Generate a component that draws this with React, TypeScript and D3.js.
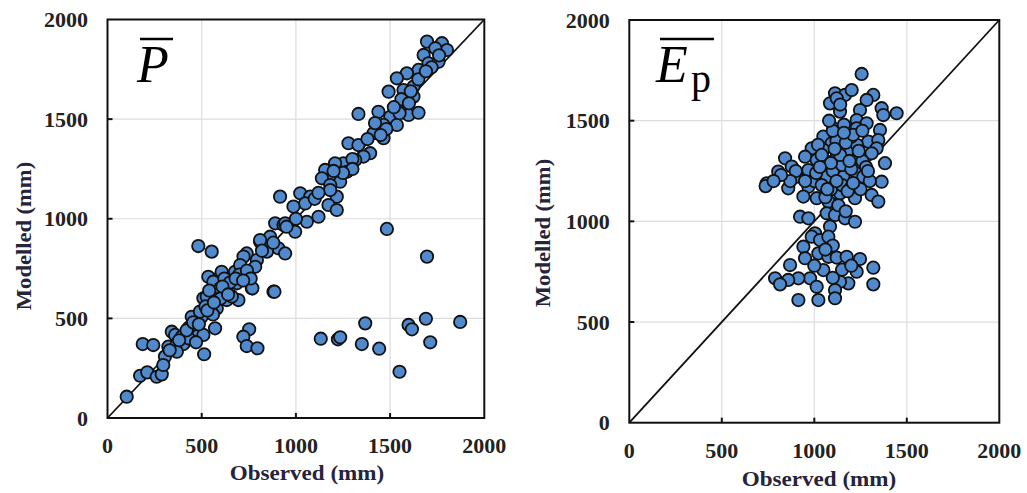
import React from "react";
import * as d3 from "d3";

const ticks = [0, 500, 1000, 1500, 2000];
const innerTicks = [500, 1000, 1500];

// Panel P: observed vs modelled precipitation (mm)
const pObserved = [
  102, 173, 211, 261, 288, 187, 243, 323, 305, 296, 341, 359, 394, 368, 403, 438, 474, 513, 509, 571,
  429, 447, 500, 491, 545, 509, 580, 633, 589, 580, 624, 686, 695, 535, 598, 606, 677, 766, 881, 482,
  553, 739, 810, 863, 907, 943, 846, 793, 784, 722, 704, 890, 934, 996, 562, 598, 527, 368,
  1696, 1775, 1802, 1740, 1678, 1704, 1757, 1651, 1589, 1536, 1624, 1571, 1492, 1624, 1536, 1438, 1501, 1598, 1651, 1332,
  1465, 1536, 1412, 1465, 1279, 1332, 1394, 1359, 1315, 1253, 1208, 1155, 1271, 1182, 1235, 1138, 1182, 1217, 1182, 916,
  1023, 1076, 1049, 987, 1173, 1217, 1120, 1058, 943, 810, 1483,
  1696, 886, 769, 752, 721, 739, 796, 1132, 1223, 1235, 1368, 1350, 1442, 1550, 1598, 1616, 1690, 1713, 1872,
  620, 650, 700, 660, 560, 520, 460, 430, 470, 540, 600, 740, 760, 820, 1000, 1100, 1300, 1420, 1480, 1560,
  1600, 1650, 1720, 1550, 1300, 1250, 1200, 1120, 950, 880,
  330, 380, 420, 455, 485, 530, 565, 610, 640, 680, 720, 1380, 1450, 1520, 1610, 1690, 1760,
];
const pModelled = [
  107, 212, 229, 207, 219, 371, 366, 358, 308, 266, 433, 417, 408, 371, 371, 458, 442, 320, 417, 450,
  450, 508, 508, 534, 567, 601, 592, 592, 634, 550, 642, 676, 592, 709, 709, 734, 734, 651, 634, 863,
  835, 826, 885, 910, 852, 826, 835, 793, 759, 810, 768, 977, 969, 935, 684, 651, 609, 333,
  1889, 1881, 1847, 1856, 1822, 1780, 1788, 1747, 1730, 1705, 1663, 1646, 1638, 1613, 1562, 1537, 1512, 1521, 1532, 1526,
  1471, 1471, 1429, 1404, 1379, 1370, 1329, 1312, 1295, 1278, 1278, 1245, 1236, 1195, 1186, 1203, 1169, 1111, 1144, 1111,
  1128, 1111, 1077, 1061, 1069, 1044, 1010, 985, 977, 893, 949,
  810, 634, 651, 445, 408, 361, 350, 398, 395, 405, 475, 371, 348, 232, 467, 445, 498, 380, 482,
  700, 680, 720, 610, 520, 560, 470, 400, 380, 640, 600, 740, 700, 840, 1000, 1100, 1300, 1480, 1450, 1600,
  1580, 1700, 1760, 1530, 1250, 1230, 1240, 1130, 960, 880,
  340, 390, 440, 480, 470, 540, 580, 660, 620, 700, 690, 1400, 1420, 1560, 1640, 1740, 1820,
];

// Panel Ep: observed vs modelled potential evaporation (mm)
const epObserved = [
  1256, 1112, 1166, 1202, 1085, 1139, 1121, 1319, 1283, 1364, 1445, 1373, 1247, 1229, 1283, 1355, 1229, 1103, 1049, 1094,
  1175, 1292, 1346, 1337, 986, 950, 1049, 1121, 1193, 1247, 1310, 1382, 842, 878, 805, 743, 737, 859, 905, 968,
  1031, 1067, 1157, 1229, 1265, 1364, 1310, 1346, 1220, 1139, 1076, 968, 941, 1013, 923, 968, 1067, 1112, 1166, 1220,
  1085, 1004, 1013, 986, 1031, 1076, 941, 1022, 950, 1076, 1121, 1175, 1247, 1319, 1319, 1229, 1184, 1139, 1112, 1049,
  977, 1013, 914, 859, 869, 788, 815, 914, 1022, 1112,
  1000, 1040, 1100, 1150, 1200, 1180, 1120, 1230, 1260, 1280, 1300, 1060, 1010, 1090, 1150, 1200, 1250, 1060, 1130, 1170,
  1100, 1160, 1200, 1080, 1140, 1020, 900, 950, 870, 820, 780, 1100, 1060, 1000, 1150, 1100, 1200,
  1040, 1090, 1140, 1190, 1240, 1290, 1070, 1120, 1170, 1210, 1260, 1030, 1180, 1110, 1160, 1210,
];
const epModelled = [
  1732, 1636, 1628, 1652, 1586, 1545, 1611, 1628, 1603, 1562, 1537, 1528, 1553, 1503, 1487, 1454, 1462, 1462, 1421, 1388,
  1413, 1396, 1404, 1363, 1363, 1321, 1355, 1321, 1330, 1321, 1338, 1289, 1313, 1272, 1247, 1189, 1175, 1164, 1222, 1255,
  1272, 1222, 1222, 1239, 1222, 1197, 1131, 1098, 1115, 1139, 1098, 1172, 1123, 1115, 1023, 1015, 1040, 1032, 1015, 998,
  974, 941, 1305, 924, 907, 924, 874, 841, 817, 824, 820, 824, 813, 770, 687, 750, 692, 700, 659, 758,
  717, 675, 717, 709, 783, 717, 687, 609, 609, 618,
  1200, 1180, 1250, 1280, 1260, 1350, 1400, 1380, 1300, 1270, 1200, 1300, 1240, 1160, 1180, 1170, 1160, 1120, 1080, 1050,
  1450, 1480, 1420, 1500, 1580, 1380, 1250, 1200, 1200, 1230, 1200, 880, 860, 780, 760, 720, 780,
  1330, 1290, 1330, 1300, 1350, 1250, 1160, 1200, 1390, 1430, 1450, 1270, 1150, 1360, 1440, 1190,
];

type Panel = {
  obs: number[];
  mod: number[];
  x0: number;
  x1: number;
  y0: number;
  y1: number;
  xLabelY: number;
  xTitleX: number;
  xTitleY: number;
  yTitleX: number;
  yTitleY: number;
};

const FONT = "'Liberation Serif', 'Times New Roman', serif";
const TITLE_COLOR = "#26243a";

function ScatterPanel({ p }: { p: Panel }) {
  const x = d3.scaleLinear().domain([0, 2000]).range([p.x0, p.x1]);
  const y = d3.scaleLinear().domain([0, 2000]).range([p.y0, p.y1]);
  const pts = p.obs.map((o, i) => ({ o, m: p.mod[i] }));
  return (
    <g>
      {innerTicks.map((t) => (
        <g key={"g" + t}>
          <line x1={x(t)} x2={x(t)} y1={y(0)} y2={y(2000)} stroke="#dcdcdc" strokeWidth={1.2} />
          <line x1={x(0)} x2={x(2000)} y1={y(t)} y2={y(t)} stroke="#dcdcdc" strokeWidth={1.2} />
        </g>
      ))}
      <line x1={x(0)} y1={y(0)} x2={x(2000)} y2={y(2000)} stroke="#111" strokeWidth={1.8} />
      {pts.map((d, i) => (
        <circle key={i} cx={x(d.o)} cy={y(d.m)} r={6.2} fill="#5089cc" stroke="#111" strokeWidth={1.8} />
      ))}
      <rect x={x(0)} y={y(2000)} width={x(2000) - x(0)} height={y(0) - y(2000)} fill="none" stroke="#111" strokeWidth={2} />
      {innerTicks.map((t) => (
        <g key={"t" + t}>
          <line x1={x(t)} x2={x(t)} y1={y(0)} y2={y(0) - 5} stroke="#111" strokeWidth={2} />
          <line x1={x(0)} x2={x(0) + 5} y1={y(t)} y2={y(t)} stroke="#111" strokeWidth={2} />
        </g>
      ))}
      {ticks.map((t) => (
        <text
          key={"yl" + t}
          transform={`translate(${x(0) - 19.5},${y(t) + 1}) scale(1.1,1)`}
          textAnchor="end"
          dominantBaseline="central"
          fontFamily={FONT}
          fontWeight="bold"
          fontSize={20}
          fill="#222"
        >
          {t}
        </text>
      ))}
      {ticks.map((t) => (
        <text
          key={"xl" + t}
          transform={`translate(${x(t)},${p.xLabelY}) scale(1.1,1)`}
          textAnchor="middle"
          fontFamily={FONT}
          fontWeight="bold"
          fontSize={20}
          fill="#222"
        >
          {t}
        </text>
      ))}
      <text
        transform={`translate(${p.xTitleX},${p.xTitleY}) scale(1.1,1)`}
        textAnchor="middle"
        fontFamily={FONT}
        fontWeight="bold"
        fontSize={21}
        fill={TITLE_COLOR}
      >
        Observed (mm)
      </text>
      <text
        transform={`translate(${p.yTitleX},${p.yTitleY}) rotate(-90) scale(1.1,1)`}
        textAnchor="middle"
        fontFamily={FONT}
        fontWeight="bold"
        fontSize={20.5}
        fill={TITLE_COLOR}
      >
        Modelled (mm)
      </text>
    </g>
  );
}

export default function App() {
  const left: Panel = {
    obs: pObserved,
    mod: pModelled,
    x0: 107.5,
    x1: 484.3,
    y0: 418,
    y1: 19.5,
    xLabelY: 453,
    xTitleX: 307,
    xTitleY: 480,
    yTitleX: 31,
    yTitleY: 236,
  };
  const right: Panel = {
    obs: epObserved,
    mod: epModelled,
    x0: 629.3,
    x1: 999.3,
    y0: 422.7,
    y1: 20,
    xLabelY: 458,
    xTitleX: 819,
    xTitleY: 486,
    yTitleX: 550,
    yTitleY: 233,
  };
  return (
    <svg width={1027} height={493} style={{ position: "absolute", left: 0, top: 0, background: "#fff" }}>
      <rect x={0} y={0} width={1027} height={493} fill="#fff" />
      <ScatterPanel p={left} />
      <ScatterPanel p={right} />
      <text x={137} y={82} fontFamily={FONT} fontStyle="italic" fontSize={52} fill="#000">
        P
      </text>
      <line x1={140} x2={173} y1={39} y2={39} stroke="#000" strokeWidth={2.5} />
      <text x={656} y={82} fontFamily={FONT} fontStyle="italic" fontSize={52} fill="#000">
        E
      </text>
      <text x={691} y={92} fontFamily={FONT} fontSize={40} fill="#000">
        p
      </text>
      <line x1={660} x2={714} y1={39} y2={39} stroke="#000" strokeWidth={2.5} />
    </svg>
  );
}
